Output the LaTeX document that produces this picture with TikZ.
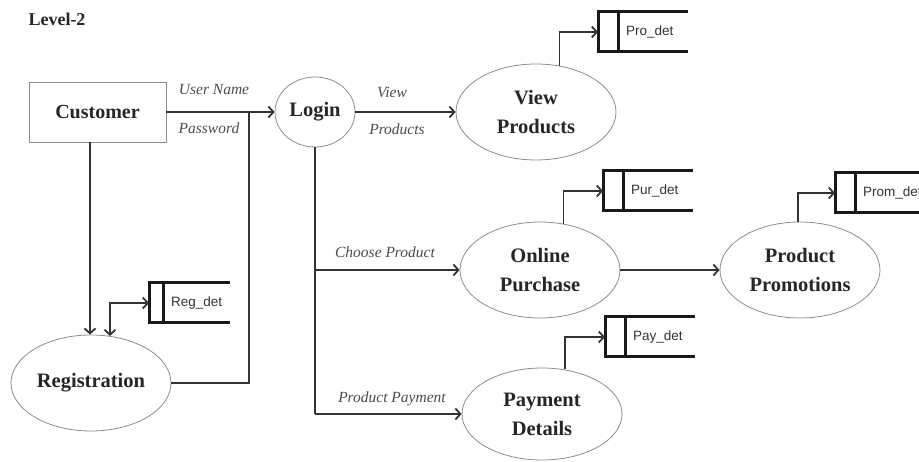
\documentclass[tikz,border=0pt]{standalone}
\usepackage{fontspec}
\setmainfont{Liberation Serif}
\newfontfamily\storefont{Liberation Sans}
\usetikzlibrary{shapes.geometric,arrows.meta}
\newcommand\dstore[6]{% name, left x, center y, width, inner offset, text
  \draw[storeline] (#2+#4,#3-20) -- (#2,#3-20) -- (#2,#3+20) -- (#2+#4,#3+20);
  \draw[storeline] (#2+#5,#3-20) -- (#2+#5,#3+20);
  \node[storetext,anchor=west] (#1) at (#2+#5+8,#3) {#6};
  \coordinate (#1-w) at (#2,#3);}
\begin{document}
\begin{tikzpicture}[x=1pt,y=-1pt,
  proc/.style={ellipse,draw=black!45,line width=0.8pt,minimum width=160pt,minimum height=96pt,
    inner sep=0pt,align=center,font=\fontsize{20.5}{29}\selectfont\bfseries,text=black!85},
  entity/.style={rectangle,draw=black!45,line width=0.8pt,minimum width=137pt,minimum height=60pt,
    inner sep=0pt,font=\fontsize{20}{24}\selectfont\bfseries,text=black!85},
  flow/.style={draw=black!80,line width=1.8pt,-{Straight Barb[length=5pt,width=11pt]}},
  plain/.style={draw=black!80,line width=1.8pt},
  lbl/.style={font=\fontsize{15.5}{17}\selectfont\itshape,text=black!70,inner sep=0pt},
  storeline/.style={draw=black!90,line width=3pt},
  storetext/.style={font=\storefont\fontsize{13.5}{15}\selectfont,text=black!80,inner sep=0pt}]
\useasboundingbox (0,0) rectangle (919,462);

\node[font=\fontsize{18}{20}\selectfont\bfseries,text=black!85] (title) at (57,19) {Level-2};

\node[entity] (cust) at (97.5,112) {Customer};
\node[proc,minimum width=80pt,minimum height=70pt] (login) at (315,112) {Login};
\node[proc] (reg) at (91,383) {Registration};
\node[proc] (vp) at (536,112) {View\\Products};
\node[proc] (op) at (540,270) {Online\\Purchase};
\node[proc] (pp) at (800,270) {Product\\Promotions};
\node[proc,minimum height=92pt] (pd) at (542,414) {Payment\\Details};

\dstore{regdet}{149}{303}{81}{14}{Reg\_det}
\dstore{prodet}{598}{32}{90}{20}{Pro\_det}
\dstore{purdet}{603}{191}{90}{20}{Pur\_det}
\dstore{promdet}{835}{193}{90}{20}{Prom\_det}
\dstore{paydet}{605}{337}{90}{20}{Pay\_det}

% Customer -> Login
\draw[flow] (cust.east) -- (login.west);
\node[lbl] (l-un) at (214,90) {User Name};
\node[lbl] (l-pw) at (209,128) {Password};
% Registration -> Login
\coordinate (j1) at (249,112);
\draw[plain] (reg.east) -| (j1);
% Customer -> Registration
\draw[flow] ([xshift=-7.5pt]cust.south) -- ([xshift=-7.5pt]cust.south |- reg.north);
% Registration <-> Reg_det
\draw[plain,{Straight Barb[length=5pt,width=11pt]}-{Straight Barb[length=5pt,width=11pt]}] (reg.68) |- (regdet-w);

% Login -> View Products
\draw[flow] (login.east) -- (vp.west);
\node[lbl] (l-view) at (392,92) {View};
\node[lbl] (l-prod) at (397,129) {Products};

% Login -> Online Purchase / Payment Details
\coordinate (jp) at (login.south |- pd.west);
\draw[plain] (login.south) -- (jp);
\draw[flow] (login.south |- op.west) -- (op.west);
\draw[flow] (jp) -- (pd.west);
\node[lbl] (l-cp) at (385,252) {Choose Product};
\node[lbl] (l-pp) at (392,399) {Product Payment};

% Online Purchase -> Product Promotions
\draw[flow] (op.east) -- (pp.west);

% processes -> stores
\draw[flow] (vp.63) |- (prodet-w);
\draw[flow] (op.63) |- (purdet-w);
\draw[flow] (pp.92) |- (promdet-w);
\draw[flow] (pd.63) |- (paydet-w);
\end{tikzpicture}
\end{document}
